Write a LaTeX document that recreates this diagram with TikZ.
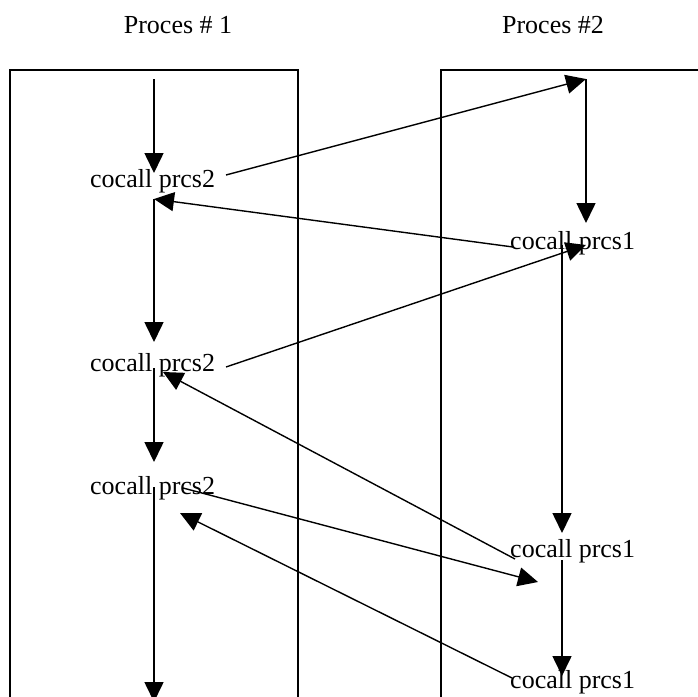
\documentclass[tikz,border=0pt]{standalone}
\usepackage{fontspec}
\setmainfont{Liberation Serif}
\usetikzlibrary{arrows.meta}
\begin{document}
\begin{tikzpicture}
      [%%%%%%%%%%%%%%%%%%%%%%%%%%%%%%
          x=1pt, y=-1pt,
          lane/.style={draw=black, line width=2.2pt},
          flow/.style={draw=black, line width=1.6pt, -{Triangle[length=20pt,width=19pt]}},
          msg/.style={flow, line width=1.4pt},
          lbl/.style={anchor=base west, inner sep=0pt, font=\fontsize{26}{30}\selectfont}
      ]%%%%%%%%%%%%%%%%%%%%%%%%%%%%%%
  \useasboundingbox (0,0) rectangle (698,696);
  \clip (0,0) rectangle (698,696);

  \node[lbl, anchor=base] (title1) at (178,33) {Proces \# 1};
  \node[lbl, anchor=base] (title2) at (553,33) {Proces \#2};

  \draw[lane] (10,720) -- (10,70) -- (298,70) -- (298,720);
  \draw[lane] (441,720) -- (441,70) -- (720,70);

  % calls of process 1
  \node[lbl] (call1) at (90,187) {cocall prcs2};
  \node[lbl] (call2) at (90,371) {cocall prcs2};
  \node[lbl] (call3) at (90,494) {cocall prcs2};

  % calls of process 2
  \node[lbl] (ret1) at (510,249) {cocall prcs1};
  \node[lbl] (ret2) at (510,557) {cocall prcs1};
  \node[lbl] (ret3) at (510,688) {cocall prcs1};

  % points on the time line of process 1
  \coordinate (p1top) at (154,79);
  \coordinate (p1a)   at (154,173);
  \coordinate (p1b)   at (154,199);
  \coordinate (p1c)   at (154,342);
  \coordinate (p1d)   at (154,368);
  \coordinate (p1e)   at (154,462);
  \coordinate (p1f)   at (154,487);
  \coordinate (p1end) at (154,702);

  % points on the time line of process 2
  \coordinate (p2top) at (586,79);
  \coordinate (p2a)   at (586,223);
  \coordinate (p2b)   at (562,245);
  \coordinate (p2c)   at (562,533);
  \coordinate (p2d)   at (562,560);
  \coordinate (p2end) at (562,676);

  % ends of the messages
  \coordinate (out1) at (226,175);
  \coordinate (out2) at (226,367);
  \coordinate (out3) at (183,488);
  \coordinate (in1)  at (513,247);
  \coordinate (in2)  at (515,559);
  \coordinate (in3)  at (512,678);
  \coordinate (hit1) at (586,245);
  \coordinate (hit2) at (163,372);
  \coordinate (hit3) at (538,582);
  \coordinate (hit4) at (180,513);

  \draw[flow] (p1top) -- (p1a);
  \draw[flow] (p1b) -- (p1c);
  \draw[flow] (p1d) -- (p1e);
  \draw[flow] (p1f) -- (p1end);

  \draw[flow] (p2top) -- (p2a);
  \draw[flow] (p2b) -- (p2c);
  \draw[flow] (p2d) -- (p2end);

  \draw[msg] (out1) -- (p2top);
  \draw[msg] (in1) -- (p1b);
  \draw[msg] (out2) -- (hit1);
  \draw[msg] (in2) -- (hit2);
  \draw[msg] (out3) -- (hit3);
  \draw[msg] (in3) -- (hit4);

  \end{tikzpicture}
\end{document}
